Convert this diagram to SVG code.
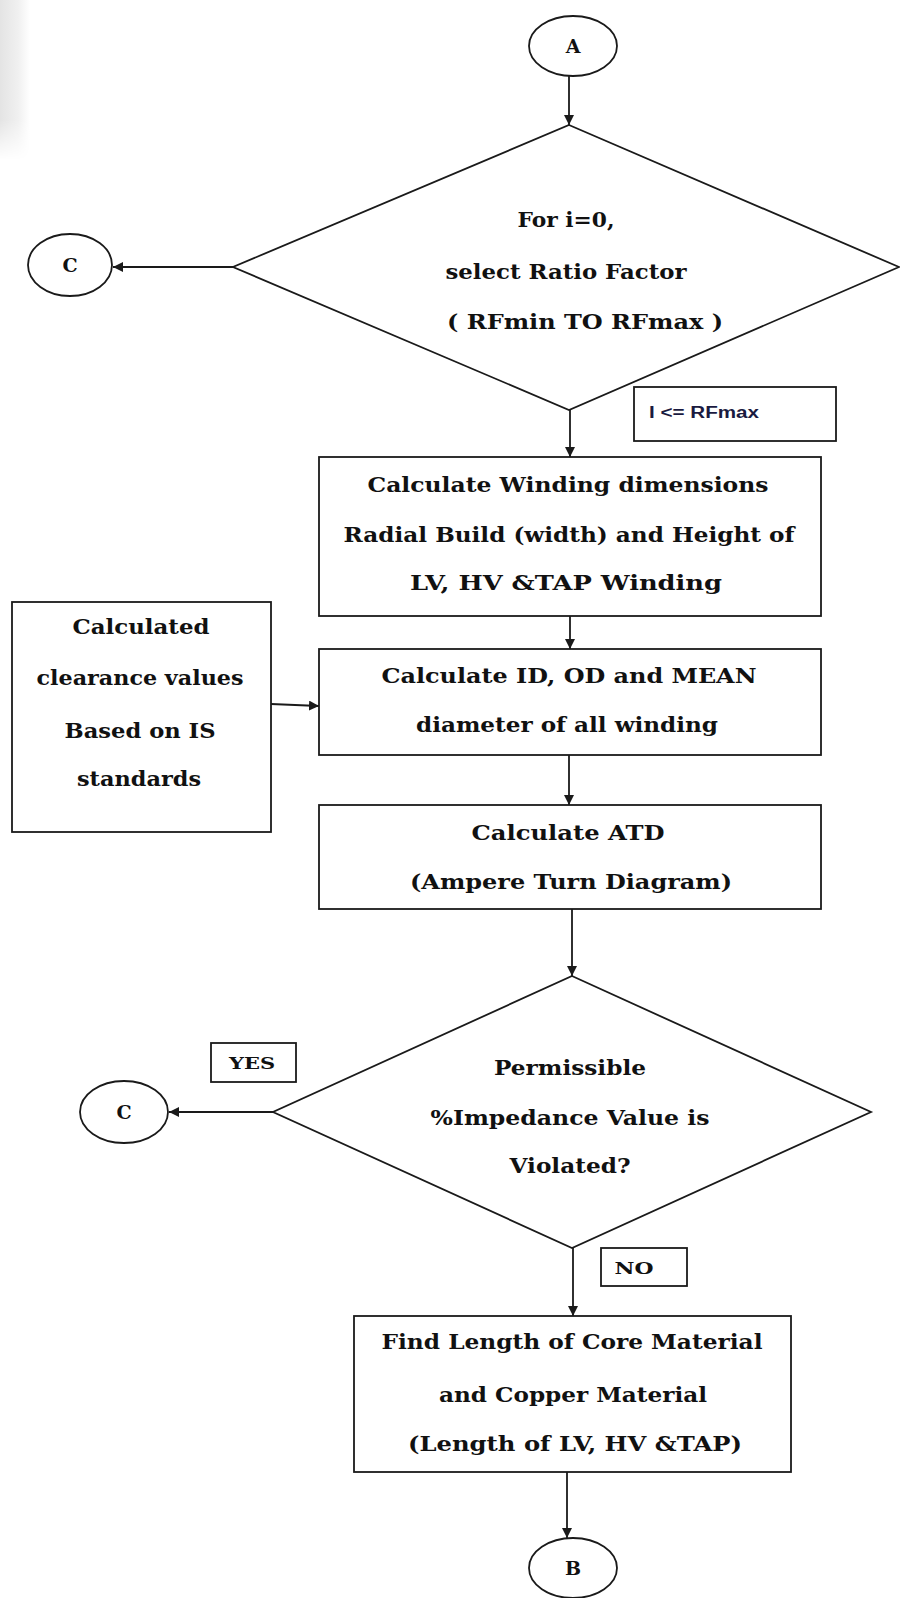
<svg xmlns="http://www.w3.org/2000/svg" width="900" height="1598" viewBox="0 0 900 1598">
<defs>
<marker id="ah" viewBox="0 0 10 10" refX="10" refY="5" markerWidth="10" markerHeight="10" markerUnits="userSpaceOnUse" orient="auto">
<path d="M0,0 L10,5 L0,10 z" fill="#1a1a1a"/>
</marker>
<linearGradient id="edge" x1="0" y1="0" x2="1" y2="0">
<stop offset="0" stop-color="#e4e4e4"/>
<stop offset="0.6" stop-color="#f0f0f0"/>
<stop offset="1" stop-color="#ffffff"/>
</linearGradient>
<linearGradient id="fadeV" x1="0" y1="0" x2="0" y2="1">
<stop offset="0" stop-color="#fff"/>
<stop offset="0.75" stop-color="#fff"/>
<stop offset="1" stop-color="#000"/>
</linearGradient>
<mask id="edgeMask">
<rect x="0" y="0" width="30" height="160" fill="url(#fadeV)"/>
</mask>
<style>
.sh{fill:#fff;stroke:#1a1a1a;stroke-width:1.8}
.ln{fill:none;stroke:#1a1a1a;stroke-width:1.8;marker-end:url(#ah)}
.t{font-family:"DejaVu Serif","Liberation Serif",serif;font-weight:bold;font-size:21px;fill:#111;text-anchor:middle}
.c{font-family:"DejaVu Serif","Liberation Serif",serif;font-weight:bold;font-size:19px;fill:#111;text-anchor:middle}
.s{font-family:"Liberation Sans","DejaVu Sans",sans-serif;font-weight:bold;font-size:16px;fill:#1a1a40}
.l{font-family:"DejaVu Serif","Liberation Serif",serif;font-weight:bold;font-size:16px;fill:#111;text-anchor:middle}
</style>
</defs>
<rect width="900" height="1598" fill="#fff"/>
<rect x="0" y="0" width="30" height="160" fill="url(#edge)" mask="url(#edgeMask)"/>
<g id="connectors">
<line class="ln" x1="569" y1="76" x2="569" y2="125"/>
<line class="ln" x1="233" y1="267" x2="113" y2="267"/>
<line class="ln" x1="570" y1="410" x2="570" y2="457"/>
<line class="ln" x1="570" y1="616" x2="570" y2="649"/>
<line class="ln" x1="271" y1="704" x2="319" y2="706"/>
<line class="ln" x1="569" y1="755" x2="569" y2="805"/>
<line class="ln" x1="572" y1="909" x2="572" y2="976"/>
<line class="ln" x1="273" y1="1112" x2="169" y2="1112"/>
<line class="ln" x1="573" y1="1248" x2="573" y2="1316"/>
<line class="ln" x1="567" y1="1472" x2="567" y2="1538"/>
</g>
<g id="nodeA">
<ellipse class="sh" cx="573" cy="46" rx="44" ry="30"/>
<text class="c" x="573" y="53">A</text>
</g>
<g id="decision1">
<polygon class="sh" points="569,125 899,267 569,410 233,267"/>
<text class="t" x="566" y="227" textLength="97" lengthAdjust="spacingAndGlyphs">For i=0,</text>
<text class="t" x="566" y="279" textLength="241" lengthAdjust="spacingAndGlyphs">select Ratio Factor</text>
<text class="t" x="585" y="329" textLength="276" lengthAdjust="spacingAndGlyphs">( RFmin TO RFmax )</text>
</g>
<g id="nodeC1">
<ellipse class="sh" cx="70" cy="265" rx="42" ry="31"/>
<text class="c" x="70" y="272">C</text>
</g>
<g id="label-rfmax">
<rect class="sh" x="634" y="387" width="202" height="54"/>
<text class="s" x="649" y="418" textLength="110" lengthAdjust="spacingAndGlyphs">I &lt;= RFmax</text>
</g>
<g id="box1">
<rect class="sh" x="319" y="457" width="502" height="159"/>
<text class="t" x="568" y="492" textLength="401" lengthAdjust="spacingAndGlyphs">Calculate Winding dimensions</text>
<text class="t" x="569" y="542" textLength="451" lengthAdjust="spacingAndGlyphs">Radial Build (width) and Height of</text>
<text class="t" x="566" y="590" textLength="312" lengthAdjust="spacingAndGlyphs">LV, HV &amp;TAP Winding</text>
</g>
<g id="box2">
<rect class="sh" x="319" y="649" width="502" height="106"/>
<text class="t" x="569" y="683" textLength="375" lengthAdjust="spacingAndGlyphs">Calculate ID, OD and MEAN</text>
<text class="t" x="567" y="732" textLength="302" lengthAdjust="spacingAndGlyphs">diameter of all winding</text>
</g>
<g id="clearance">
<rect class="sh" x="12" y="602" width="259" height="230"/>
<text class="t" x="141" y="634" textLength="137" lengthAdjust="spacingAndGlyphs">Calculated</text>
<text class="t" x="140" y="685" textLength="207" lengthAdjust="spacingAndGlyphs">clearance values</text>
<text class="t" x="140" y="738" textLength="151" lengthAdjust="spacingAndGlyphs">Based on IS</text>
<text class="t" x="139" y="786" textLength="124" lengthAdjust="spacingAndGlyphs">standards</text>
</g>
<g id="box3">
<rect class="sh" x="319" y="805" width="502" height="104"/>
<text class="t" x="568" y="840" textLength="193" lengthAdjust="spacingAndGlyphs">Calculate ATD</text>
<text class="t" x="571" y="889" textLength="322" lengthAdjust="spacingAndGlyphs">(Ampere Turn Diagram)</text>
</g>
<g id="decision2">
<polygon class="sh" points="572,976 871,1112 572,1248 273,1112"/>
<text class="t" x="570" y="1075" textLength="152" lengthAdjust="spacingAndGlyphs">Permissible</text>
<text class="t" x="570" y="1125" textLength="279" lengthAdjust="spacingAndGlyphs">%Impedance Value is</text>
<text class="t" x="570" y="1173" textLength="121" lengthAdjust="spacingAndGlyphs">Violated?</text>
</g>
<g id="label-yes">
<rect class="sh" x="211" y="1043" width="85" height="39"/>
<text class="l" x="252" y="1069" textLength="46" lengthAdjust="spacingAndGlyphs">YES</text>
</g>
<g id="nodeC2">
<ellipse class="sh" cx="124" cy="1112" rx="44" ry="31"/>
<text class="c" x="124" y="1119">C</text>
</g>
<g id="label-no">
<rect class="sh" x="601" y="1248" width="86" height="38"/>
<text class="l" x="634" y="1274" textLength="39" lengthAdjust="spacingAndGlyphs">NO</text>
</g>
<g id="box4">
<rect class="sh" x="354" y="1316" width="437" height="156"/>
<text class="t" x="572" y="1349" textLength="381" lengthAdjust="spacingAndGlyphs">Find Length of Core Material</text>
<text class="t" x="573" y="1402" textLength="268" lengthAdjust="spacingAndGlyphs">and Copper Material</text>
<text class="t" x="575" y="1451" textLength="334" lengthAdjust="spacingAndGlyphs">(Length of LV, HV &amp;TAP)</text>
</g>
<g id="nodeB">
<ellipse class="sh" cx="573" cy="1568" rx="44" ry="30"/>
<text class="c" x="573" y="1575">B</text>
</g>
</svg>
